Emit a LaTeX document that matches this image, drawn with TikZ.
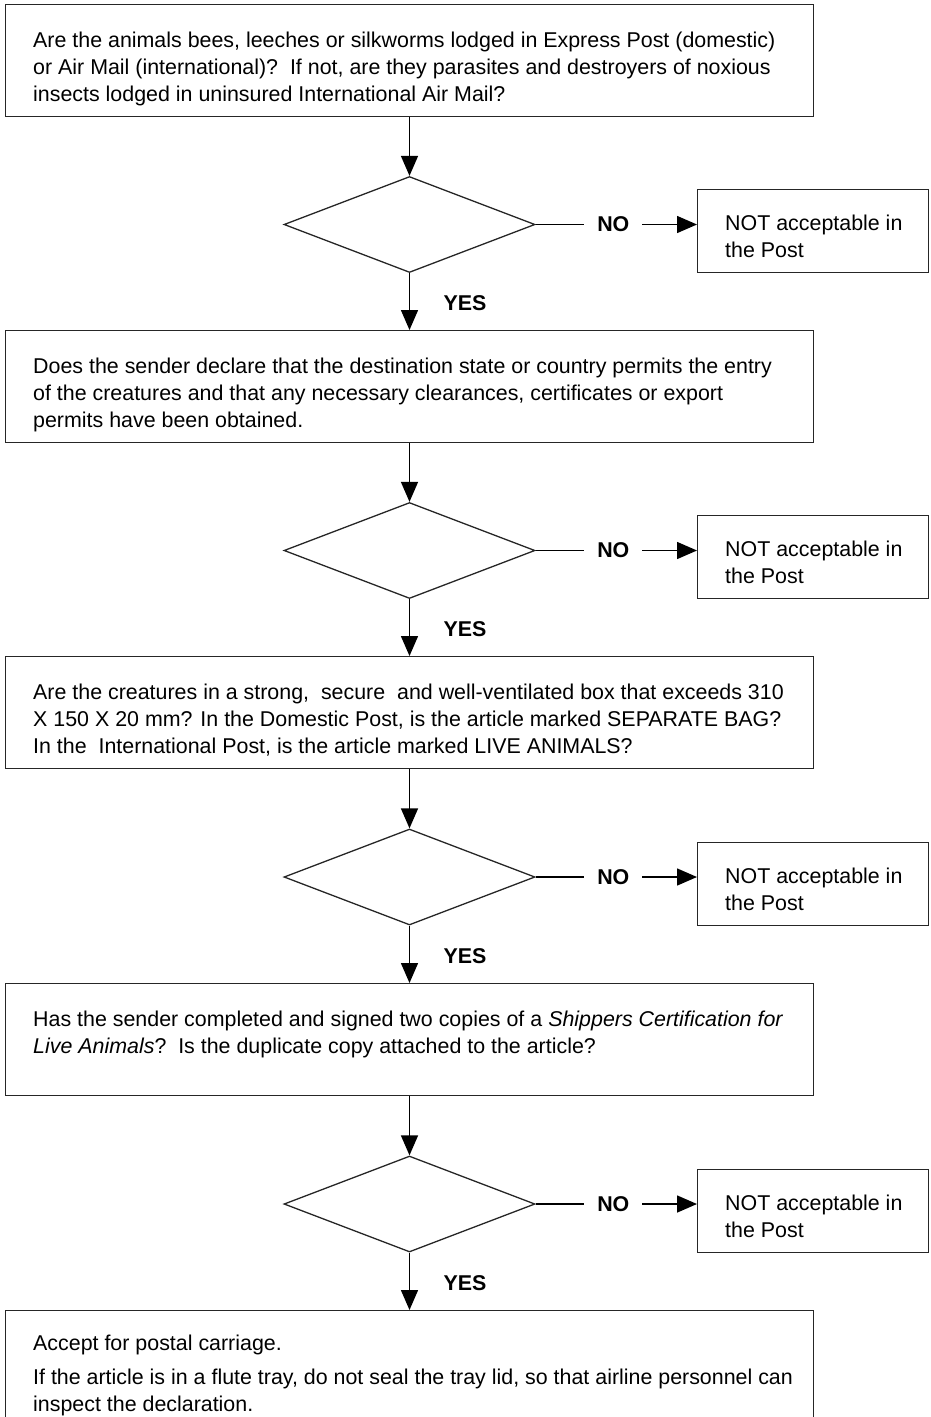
\documentclass[tikz,border=0pt]{standalone}
\usepackage{fontspec}
\setmainfont{Liberation Sans}
\usetikzlibrary{shapes.geometric,arrows.meta}

\begin{document}
\begin{tikzpicture}[x=1pt,y=-1pt,
  qbox/.style={draw=black!85, line width=1.3pt, rectangle, minimum width=808pt,
    minimum height=112pt, anchor=north west, inner sep=0pt},
  % multi-line texts are placed by the baseline of their last line
  qtext/.style={anchor=base west, align=left, inner sep=0pt,
    font=\fontsize{21.4}{27}\selectfont},
  decide/.style={draw=black!85, diamond, line width=1.3pt, minimum width=251pt,
    minimum height=96pt, inner sep=0pt},
  reject/.style={draw=black!85, line width=1.3pt, rectangle, minimum width=231pt,
    minimum height=83pt, anchor=north west, inner sep=0pt},
  flow/.style={line width=1.5pt, -{Triangle[length=20pt,width=17pt]}},
  lab/.style={font=\fontsize{21.4}{21}\selectfont\bfseries, inner sep=0pt},
  nolab/.style={lab, fill=white, inner xsep=13pt, inner ysep=4pt}
]
\useasboundingbox (0,0) rectangle (931,1417);
\clip (0,0) rectangle (931,1417);

% question boxes
\node[qbox] (q1) at (5,4) {};
\node[qbox] (q2) at (5,330) {};
\node[qbox] (q3) at (5,656) {};
\node[qbox] (q4) at (5,983) {};
\node[qbox, minimum height=140pt] (q5) at (5,1310) {};

\node[qtext] (t1) at (33,101) {Are the animals bees, leeches or silkworms lodged in Express Post (domestic)\\
or Air Mail (international)?\ \ If not, are they parasites and destroyers of noxious\\
insects lodged in uninsured International Air Mail?};
\node[qtext] (t2) at (33,427) {Does the sender declare that the destination state or country permits the entry\\
of the creatures and that any necessary clearances, certificates or export\\
permits have been obtained.};
\node[qtext] (t3) at (33,753) {Are the creatures in a strong,\ \ secure\ \ and well-ventilated box that exceeds 310\\
X 150 X 20 mm? In the Domestic Post, is the article marked SEPARATE BAG?\\
In the\ \ International Post, is the article marked LIVE ANIMALS?};
\node[qtext] (t4) at (33,1053) {Has the sender completed and signed two copies of a \textit{Shippers Certification for}\\
\textit{Live Animals}?\ \ Is the duplicate copy attached to the article?};
\node[qtext] (t5a) at (33,1350) {Accept for postal carriage.};
\node[qtext] (t5b) at (33,1411) {If the article is in a flute tray, do not seal the tray lid, so that airline personnel can\\
inspect the declaration.};

% decisions and rejections
\foreach \i/\y in {1/224.5, 2/550.5, 3/877, 4/1204} {
  \node[decide] (d\i) at (409.5,\y) {};
  \node[reject] (n\i) at (697,\y-35.5) {};
  \node[qtext] (nt\i) at (725,\y+33) {NOT acceptable in\\the Post};
  \draw[flow] (d\i.east) -- node[nolab, xshift=-3pt] (no\i) {NO} (d\i.east -| n\i.west);
  \node[lab] (yes\i) at (465,\y+79) {YES};
}

% vertical flow
\draw[flow] (q1.south -| d1.north) -- (d1.north);
\draw[flow] (d1.south) -- (d1.south |- q2.north);
\draw[flow] (q2.south -| d2.north) -- (d2.north);
\draw[flow] (d2.south) -- (d2.south |- q3.north);
\draw[flow] (q3.south -| d3.north) -- (d3.north);
\draw[flow] (d3.south) -- (d3.south |- q4.north);
\draw[flow] (q4.south -| d4.north) -- (d4.north);
\draw[flow] (d4.south) -- (d4.south |- q5.north);
\end{tikzpicture}
\end{document}
